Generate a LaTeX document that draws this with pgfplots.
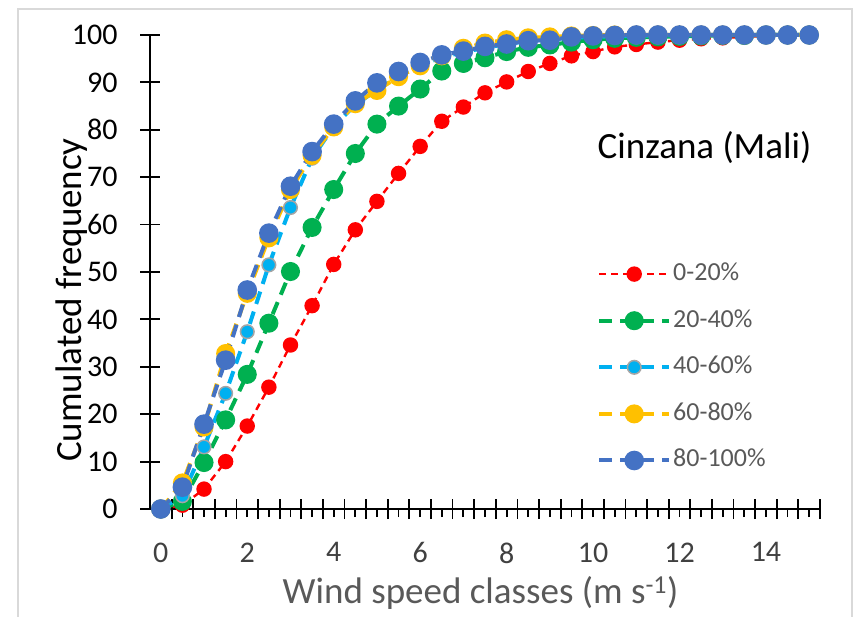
\documentclass[border=0pt]{standalone}
\usepackage{fontspec}
\setmainfont{Carlito}
\usepackage{pgfplots}
\usepackage{pgfplotstable}
\pgfplotsset{compat=1.18}

\definecolor{cRed}{HTML}{FF0000}
\definecolor{cGreen}{HTML}{00B050}
\definecolor{cCyan}{HTML}{00B0F0}
\definecolor{cGold}{HTML}{FFC000}
\definecolor{cBlue}{HTML}{4472C4}
\definecolor{txtGray}{HTML}{595959}
\definecolor{tickGray}{HTML}{404040}
\definecolor{frameGray}{HTML}{D9D9D9}
\definecolor{rimGray}{HTML}{A5A5A5}

% cumulated frequency (%) per wind speed class, one column per class range
\pgfplotstableread{
x     r     g     c     y     b
0     0     0     0     0     0
0.5   0.8   1.6   2.8   5.5   4.6
1     4.2   9.8   13.1  17.3  17.9
1.5   10.0  18.8  24.4  32.8  31.4
2     17.5  28.4  37.4  45.5  46.2
2.5   25.7  39.2  51.5  57.2  58.2
3     34.6  50.1  63.6  67.4  68.1
3.5   42.9  59.4  74.0  74.6  75.4
4     51.6  67.4  80.7  80.6  81.2
4.5   58.9  75.0  85.3  85.5  86.1
5     64.9  81.2  88.4  88.3  89.9
5.5   70.8  85.0  91.3  91.2  92.3
6     76.5  88.6  93.6  93.5  94.2
6.5   81.8  92.4  95.3  95.6  95.8
7     84.8  94.0  96.4  97.2  96.6
7.5   87.8  95.2  97.3  98.3  97.6
8     90.1  96.5  98.1  99.0  98.1
8.5   92.3  97.4  98.7  99.4  98.8
9     94.0  97.9  99.1  99.6  98.9
9.5   95.6  98.5  99.4  99.8  99.6
10    96.5  99.0  99.6  99.9  99.8
10.5  97.5  99.3  99.7  100   99.9
11    98.0  99.5  99.8  100   100
11.5  98.5  99.6  99.9  100   100
12    98.9  99.7  99.9  100   100
12.5  99.2  99.8  100   100   100
13    99.4  99.9  100   100   100
13.5  99.6  99.9  100   100   100
14    99.8  100   100   100   100
14.5  99.9  100   100   100   100
15    100   100   100   100   100
}\cumdata

\begin{document}
\begin{tikzpicture}[x=1pt,y=1pt]
\useasboundingbox (0,0) rectangle (856,616);
\draw[frameGray, line width=1.5pt] (18,-20) rectangle (852,607);

\begin{axis}[
  at={(150pt,107pt)}, anchor=south west,
  width=670pt, height=474pt, scale only axis,
  xmin=-0.25, xmax=15.25, ymin=0, ymax=100,
  clip=false,
  axis x line*=bottom, axis y line*=left,
  axis line style={line width=1.8pt, black},
  tick align=center,
  major tick length=20pt,
  minor tick length=8pt,
  tick style={line width=1.8pt, black},
  every minor tick/.append style={yshift=-4pt, line width=1.8pt},
  xtick={0.25,0.75,...,15.25},
  xticklabels={},
  minor xtick={0,0.5,...,15},
  extra x ticks={0,2,4,6,8,10,12,14},
  extra x tick labels={0,2,4,6,8,10,12,14},
  extra x tick style={tick style={draw=none}},
  xticklabel style={font=\fontsize{30}{36}\selectfont, text=tickGray, yshift=-20pt},
  ytick={0,10,...,100},
  yticklabel style={font=\fontsize{30}{36}\selectfont, text=black, xshift=-19pt},
  /pgf/number format/assume math mode=true,
  legend cell align=left,
  legend image code/.code={
    \draw[mark repeat=2, mark phase=2, #1]
      plot coordinates {(0pt,0pt) (35pt,0pt) (70pt,0pt)};
  },
  legend style={
    at={(axis description cs:0.6672,0.5266)}, anchor=north west,
    draw=none, fill=none, inner sep=0pt,
    font=\fontsize{26}{31}\selectfont, text=txtGray,
    row sep=17.6pt,
    nodes={inner sep=2pt, text height=19pt, text depth=6pt},
  },
]
\addplot[cRed, line width=2.4pt, dash pattern=on 7pt off 5pt,
  mark=*, mark size=6.5pt, mark options={solid, draw=none, fill=cRed}]
  table[x=x, y=r] {\cumdata};
\addlegendentry{0-20\%}
\addplot[cGreen, line width=4pt, dash pattern=on 13pt off 8pt,
  mark=*, mark size=7.5pt, mark options={solid, draw=none, fill=cGreen}]
  table[x=x, y=g] {\cumdata};
\addlegendentry{20-40\%}
\addplot[cCyan, line width=4pt, dash pattern=on 13pt off 8pt,
  mark=*, mark size=6.8pt, mark options={solid, draw=rimGray, line width=1.5pt, fill=cCyan}]
  table[x=x, y=c] {\cumdata};
\addlegendentry{40-60\%}
\addplot[cGold, line width=4pt, dash pattern=on 13pt off 8pt,
  mark=*, mark size=7.5pt, mark options={solid, draw=none, fill=cGold}]
  table[x=x, y=y] {\cumdata};
\addlegendentry{60-80\%}
\addplot[cBlue, line width=4pt, dash pattern=on 13pt off 8pt,
  mark=*, mark size=7.8pt, mark options={solid, draw=none, fill=cBlue}]
  table[x=x, y=b] {\cumdata};
\addlegendentry{80-100\%}
\end{axis}

\node[rotate=90, anchor=base, font=\fontsize{37}{44}\selectfont, text=black]
  at (81,316) {Cumulated frequency};
\node[anchor=base, font=\fontsize{37}{44}\selectfont, text=txtGray]
  at (480.5,13) {Wind speed classes (m s\textsuperscript{-1})};
\node[anchor=base, font=\fontsize{37}{44}\selectfont, text=black]
  at (704.5,457) {Cinzana (Mali)};
\end{tikzpicture}
\end{document}
